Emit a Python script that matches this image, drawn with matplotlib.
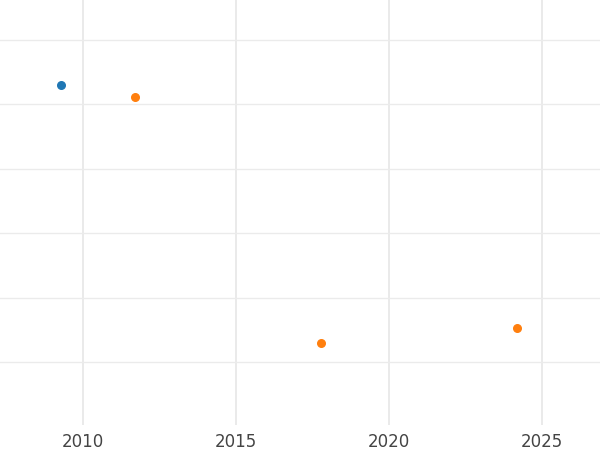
import matplotlib.pyplot as plt

blue_x = [2009.28]
blue_y = [4.30]
orange_x = [2011.7, 2017.78, 2024.18]
orange_y = [4.11, 0.30, 0.53]
xticks = [2010, 2015, 2020, 2025]

fig = plt.figure(figsize=(6, 4.5), dpi=100)
ax = fig.add_axes([0, 25 / 450, 1, 425 / 450])
ax.scatter(blue_x, blue_y, color="#1f77b4", s=30, zorder=3)
ax.scatter(orange_x, orange_y, color="#ff7f0e", s=30, zorder=3)

ax.set_xlim(2007.29, 2026.9)
ax.set_ylim(-0.98, 5.62)
ax.set_xticks(xticks)
ax.set_yticks([0, 1, 2, 3, 4, 5])
ax.set_yticklabels([])
ax.grid(which="major", axis="x", color="#e6e6e6", linewidth=1.2)
ax.grid(which="major", axis="y", color="#ebebeb", linewidth=1.0)
ax.tick_params(length=0, labelsize=12, labelcolor="#444444", pad=6)
for s in ax.spines.values():
    s.set_visible(False)

fig.savefig("out.png")
